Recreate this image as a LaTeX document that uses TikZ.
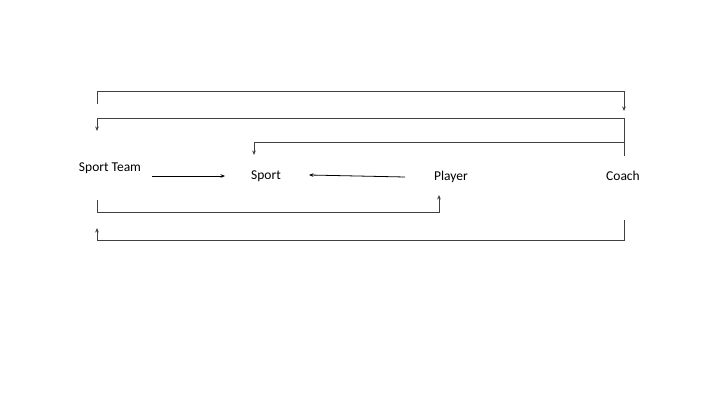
\documentclass[tikz,border=0pt]{standalone}
\usepackage{fontspec}
\setmainfont{Carlito}
\usetikzlibrary{
  arrows.meta,
  positioning
}
\definecolor{roleInk}{HTML}{000000}
\definecolor{roleWire}{HTML}{404040}
\tikzset{
  every node/.style={font=\fontsize{13.5}{16}\selectfont, text=roleInk},
  role/.style={inner sep=0pt},
  link/.style={
    -{Stealth[length=4.5pt,width=3.6pt]},
    line width=0.8pt,
    draw=roleWire
  },
  flow/.style={
    -{Stealth[length=4.5pt,width=3.6pt]},
    line width=0.8pt,
    draw=roleInk
  }
}

\begin{document}
\begin{tikzpicture}[x=1pt,y=1pt]
  \useasboundingbox (0,0) rectangle (720,405);

  \node[role] (team)   at (110,237) {Sport Team};
  \node[role] (sport)  at (266,229) {Sport};
  \node[role] (player) at (451,228) {Player};
  \node[role] (coach)  at (623,229) {Coach};

  \draw[flow] ([shift={(42,-8)}]team.center) -- ([shift={(-41,0)}]sport.center);
  \draw[flow] ([shift={(-46,0)}]player.center) -- ([shift={(43,1)}]sport.center);

  \draw[link] ([shift={(-13,64)}]team.center) -- ++(0,13) -| ([shift={(1,65)}]coach.center);
  \draw[link] ([shift={(1,20)}]coach.center) -- ++(0,38) -| ([shift={(-13,37)}]team.center);
  \draw[link] ([shift={(1,20)}]coach.center) -- ++(0,14) -| ([shift={(-12,21)}]sport.center);
  \draw[link] ([shift={(-13,-32)}]team.center) -- ++(0,-12) -| ([shift={(-12,-18)}]player.center);
  \draw[link] ([shift={(1,-44)}]coach.center) -- ++(0,-20) -| ([shift={(-13,-60)}]team.center);
\end{tikzpicture}
\end{document}
